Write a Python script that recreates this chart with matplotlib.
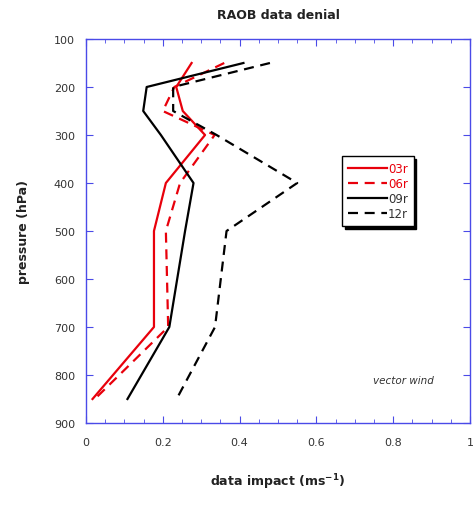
import numpy as np
import matplotlib
matplotlib.use("Agg")
import matplotlib.pyplot as plt

# pressure levels (hPa) and data impact (m/s) for each run
pres = [150, 200, 250, 300, 400, 500, 700, 850]
r03 = [0.275, 0.235, 0.252, 0.31, 0.208, 0.177, 0.177, 0.017]
r06 = [0.36, 0.23, 0.20, 0.335, 0.245, 0.208, 0.214, 0.023]
r09 = [0.41, 0.158, 0.149, 0.195, 0.28, 0.258, 0.217, 0.108]
r12 = [0.479, 0.227, 0.227, 0.34, 0.55, 0.366, 0.336, 0.236]

runs = ["03r", "06r", "09r", "12r"]
colors = ["#e8000b", "#e8000b", "black", "black"]
styles = ["-", "--", "-", "--"]

blue = "#4a4ae8"
txt = "#333333"

fig = plt.figure(figsize=(4.74, 5.06), dpi=100)
ax = fig.add_axes([86/474, 1-424/506, 384/474, 384/506])

for vals, lab, c, ls in zip([r03, r06, r09, r12], runs, colors, styles):
    ax.plot(vals, pres, color=c, ls=ls, lw=1.6, label=lab,
            dashes=(4.5, 3) if ls == "--" else (None, None))

ax.set_xlim(0, 1)
ax.set_ylim(900, 100)
ax.set_xticks(np.arange(0, 1.01, 0.2))
ax.set_xticks(np.arange(0, 1.01, 0.05), minor=True)
ax.set_xticklabels(["0", "0.2", "0.4", "0.6", "0.8", "1"])
ax.set_yticks(np.arange(100, 901, 100))

for s in ax.spines.values():
    s.set_color(blue)
    s.set_linewidth(1.0)
ax.tick_params(which="both", direction="in", top=True, right=True,
               color=blue, labelcolor=txt, labelsize=8)
ax.tick_params(which="major", length=5)
ax.tick_params(which="minor", length=3)
ax.tick_params(axis="x", pad=10)
ax.tick_params(axis="y", pad=8)

ax.set_title("RAOB data denial", fontsize=9, fontweight="bold", color="#222222", pad=15)
ax.set_xlabel(r"data impact (ms$^{\mathregular{-1}}$)", fontsize=9, fontweight="bold",
              labelpad=18, color="#222222")
ax.set_ylabel("pressure (hPa)", fontsize=9, fontweight="bold", labelpad=17,
              color="#222222")

ax.text(0.826, 810, "vector wind", fontsize=7.5, style="italic", color=txt,
        ha="center", va="center")

leg = ax.legend(loc="upper left", bbox_to_anchor=(0.666, 0.695), borderaxespad=0,
                fontsize=8.5, handlelength=3.3, handletextpad=0.1, labelspacing=0.18,
                borderpad=0.5, fancybox=False, edgecolor="black", framealpha=1,
                shadow={"color": "black", "alpha": 1})
leg.get_frame().set_linewidth(1.0)
for t, c in zip(leg.get_texts(), colors):
    t.set_color(c if c != "black" else txt)

fig.savefig("out.png", dpi=100)
